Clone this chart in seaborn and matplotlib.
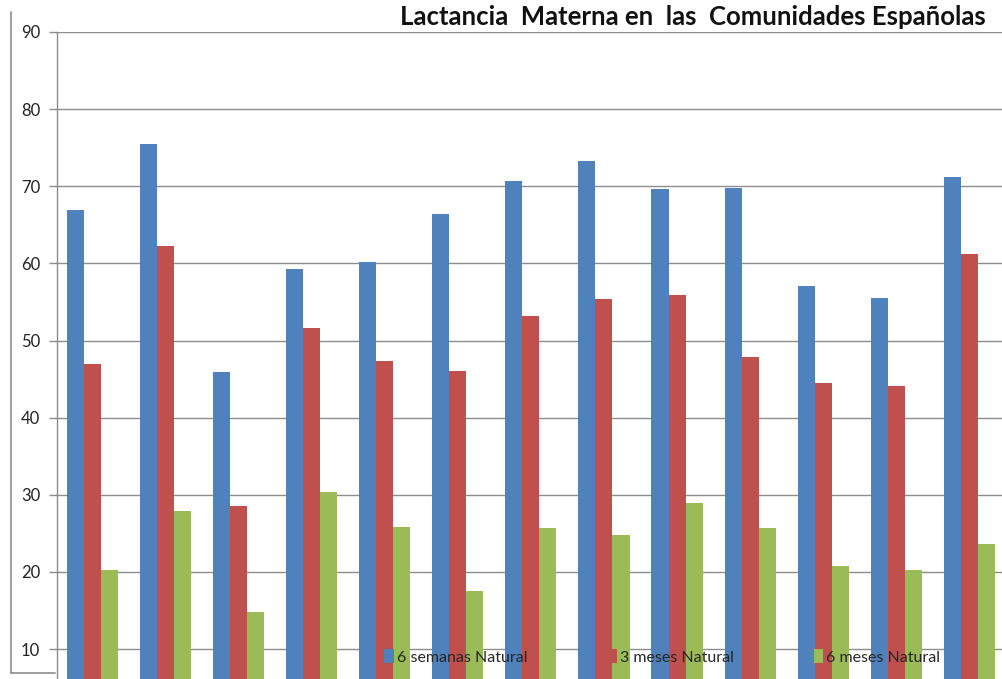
import matplotlib
matplotlib.use("Agg")
import matplotlib.pyplot as plt
import seaborn as sns
import pandas as pd
from matplotlib.lines import Line2D
from matplotlib.patches import Patch

regions = ["Andalucía", "Aragón", "Asturias", "Baleares", "Canarias", "Cantabria",
           "Castilla y León", "Castilla-La Mancha", "Cataluña", "C. Valenciana",
           "Extremadura", "Galicia", "Madrid"]
series = ["6 semanas Natural", "3 meses Natural", "6 meses Natural"]
semanas6 = [66.9, 75.5, 45.9, 59.3, 60.2, 66.4, 70.7, 73.3, 69.6, 69.8, 57.1, 55.5, 71.2]
meses3 = [47.0, 62.3, 28.5, 51.6, 47.3, 46.0, 53.2, 55.4, 55.9, 47.9, 44.5, 44.1, 61.2]
meses6 = [20.2, 27.9, 14.8, 30.4, 25.8, 17.5, 25.7, 24.8, 28.9, 25.7, 20.8, 20.2, 23.6]
yticks = [10, 20, 30, 40, 50, 60, 70, 80, 90]
title = "Lactancia  Materna en  las  Comunidades Españolas"
colors = ["#4F81BD", "#C0504D", "#9BBB59"]

df = pd.DataFrame({
    "region": regions * 3,
    "serie": [series[0]] * 13 + [series[1]] * 13 + [series[2]] * 13,
    "valor": semanas6 + meses3 + meses6,
})

sns.set_theme(style="white")
plt.rcParams["font.family"] = ["Lato", "DejaVu Sans"]

W, H = 1003, 679
fig = plt.figure(figsize=(W / 100, H / 100), dpi=100)
ax = fig.add_axes([57 / W, 0, 1 - 57 / W, (H - 32) / H])

sns.barplot(data=df, x="region", y="valor", hue="serie", palette=colors,
            width=0.7, saturation=1, ax=ax, legend=False,
            edgecolor="none", linewidth=0)

ax.set_ylim(90 - (H - 32) / 7.7125, 90)
ax.set_xlim(-0.484, 12.46)
ax.set_yticks(yticks)
ax.set_yticklabels([str(t) for t in yticks], fontsize=12)
ax.yaxis.grid(True, color="#8C8C8C", linewidth=1)
ax.set_axisbelow(True)
ax.set_xticks([])
ax.set_xlabel("")
ax.set_ylabel("")
for s in ["top", "right", "bottom"]:
    ax.spines[s].set_visible(False)
ax.spines["left"].set_color("#8C8C8C")
ax.spines["left"].set_linewidth(1)
ax.tick_params(axis="y", which="major", left=True, length=6, color="#8C8C8C",
               width=1, pad=6, labelcolor="#222222")

handles = [Patch(facecolor=c, edgecolor="none") for c in colors]
leg = fig.legend(handles, series, ncol=3, loc="center left",
                 bbox_to_anchor=(376 / W, 1 - 657 / H), frameon=False,
                 fontsize=11.5, handlelength=0.6, handleheight=0.9,
                 handletextpad=0.2, columnspacing=5.0, borderpad=0)

# outer frame remnants
fig.add_artist(Line2D([11 / W, 11 / W], [1 - 12 / H, 1 - 673 / H], color="#8C8C8C", lw=1.2))
fig.add_artist(Line2D([11 / W, 55 / W], [1 - 673 / H, 1 - 673 / H], color="#8C8C8C", lw=1.2))

fig.text(400 / W, 1 - 25 / H, title, fontsize=18.5, fontweight="bold",
         ha="left", va="baseline", color="#111111")

fig.savefig("out.png", dpi=100)
